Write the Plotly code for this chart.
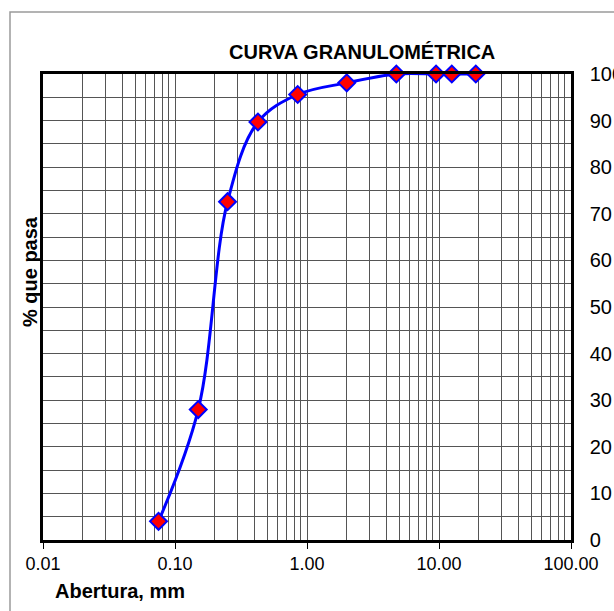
import plotly.graph_objects as go

# Data
abertura_mm = [0.075, 0.15, 0.25, 0.425, 0.85, 2.0, 4.75, 9.5, 12.5, 19.0]
pct_pasa = [4.0, 28.0, 72.6, 89.7, 95.6, 98.1, 100.0, 100.0, 100.0, 100.0]

x_major = [0.01, 0.1, 1, 10, 100]
x_major_text = ["0.01", "0.10", "1.00", "10.00", "100.00"]
x_minor = [m * d for d in [0.01, 0.1, 1, 10] for m in range(2, 10)]
y_ticks = list(range(0, 101, 10))

FONT = "Arial, Liberation Sans, sans-serif"
GRID = "#555555"

fig = go.Figure()
fig.add_trace(go.Scatter(
    x=abertura_mm, y=pct_pasa, mode="lines+markers",
    line=dict(color="#0000FF", width=3, shape="spline"),
    marker=dict(symbol="diamond", size=13, color="#FF0000",
                line=dict(color="#0000FF", width=2)),
    showlegend=False,
    cliponaxis=False,
))

fig.update_layout(
    width=614, height=611,
    margin=dict(l=43, r=43, t=74, b=71, autoexpand=False),
    paper_bgcolor="white", plot_bgcolor="white",
    font=dict(family=FONT, color="black"),
    xaxis=dict(
        type="log", range=[-2, 2], automargin=False,
        tickmode="array", tickvals=x_major, ticktext=x_major_text,
        tickfont=dict(size=18), ticks="outside", ticklen=6, tickwidth=1,
        tickcolor="black",
        showgrid=True, gridcolor=GRID, gridwidth=1,
        minor=dict(tickmode="array", tickvals=x_minor, showgrid=True,
                   gridcolor=GRID, gridwidth=1, ticks=""),
        showline=True, linecolor="black", linewidth=2.5, mirror=True,
        zeroline=False,
    ),
    yaxis=dict(
        range=[0, 100], side="right", automargin=False,
        tickmode="array", tickvals=y_ticks,
        tickfont=dict(size=20), ticks="", ticklabelstandoff=12,
        showgrid=True, gridcolor=GRID, gridwidth=1,
        minor=dict(dtick=5, showgrid=True, gridcolor=GRID, gridwidth=1, ticks=""),
        showline=True, linecolor="black", linewidth=2.5, mirror=True,
        zeroline=False,
    ),
    annotations=[
        dict(text="<b>CURVA GRANULOMÉTRICA</b>", xref="paper", yref="paper",
             x=0.604, y=1.047, xanchor="center", yanchor="middle",
             showarrow=False, font=dict(size=20)),
        dict(text="<b>% que pasa</b>", xref="paper", yref="paper",
             x=-0.0246, y=0.575, xanchor="center", yanchor="middle",
             textangle=-90, showarrow=False, font=dict(size=20)),
        dict(text="<b>Abertura, mm</b>", xref="paper", yref="paper",
             x=0.019, y=-0.109, xanchor="left", yanchor="middle",
             showarrow=False, font=dict(size=20)),
    ],
    shapes=[
        dict(type="rect", xref="paper", yref="paper",
             x0=(10 - 43) / 528, x1=(640 - 43) / 528,
             y0=(540 - 640) / 466, y1=(540 - 12) / 466,
             line=dict(color="#9a9a9a", width=1.5), layer="below"),
    ],
)

fig.write_html("out.html")
